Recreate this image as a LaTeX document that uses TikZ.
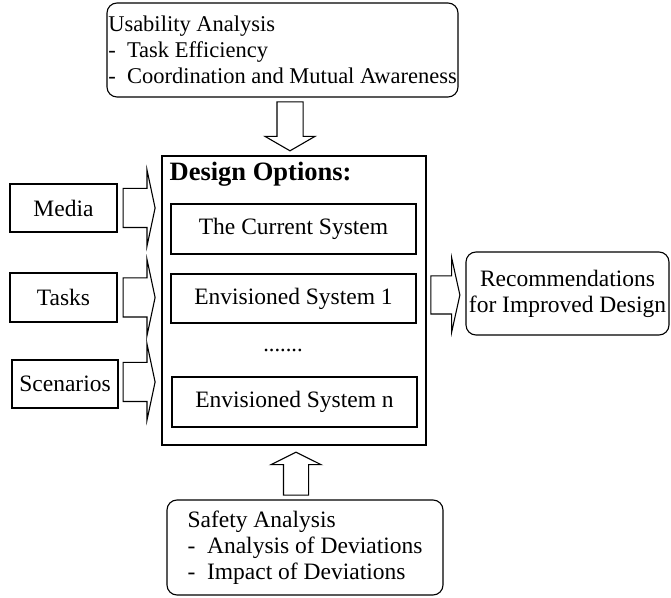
\documentclass[tikz,border=0pt]{standalone}
\usepackage{fontspec}
\setmainfont{Liberation Serif}
\usetikzlibrary{shapes.arrows}

\begin{document}
\begin{tikzpicture}[x=1pt,y=1pt,
  box/.style={draw, line width=1.1pt, inner sep=0pt, font=\fontsize{23.5}{26}\selectfont},
  roundbox/.style={box, rounded corners=10pt, align=left},
  fatarrow/.style={single arrow, draw, line width=1.1pt, inner xsep=0pt, minimum width=0pt}]

 \useasboundingbox (0,0) rectangle (671,597);

 \node[roundbox, minimum width=351, minimum height=94, font=\fontsize{22.5}{26}\selectfont] (usab)
   at (282.5,547) {Usability Analysis\\-~~Task Efficiency\\-~~Coordination and Mutual Awareness};

 \node[box, minimum width=264, minimum height=289] (opts) at (294,296.5) {};
   \node[anchor=west, inner sep=0pt, font=\fontsize{26.5}{30}\selectfont\bfseries] (title)
     at ([xshift=8pt,yshift=-19pt]opts.north west) {Design Options:};
   \node[box, minimum width=245, minimum height=50] (cur) at (293.5,368) {The Current System};
   \node[box, minimum width=245, minimum height=49] (env1) at (293.5,298.5) {Envisioned System 1};
   \node[anchor=base, inner sep=0pt, font=\fontsize{22.5}{26}\selectfont] (dots) at (283,245) {.......};
   \node[box, minimum width=245, minimum height=50] (envn) at (294.5,195) {Envisioned System n};

 \node[box, minimum width=107, minimum height=48] (media) at (63.5,389) {Media};
 \node[box, minimum width=107, minimum height=49] (tasks) at (63.5,299.5) {Tasks};
 \node[box, minimum width=106, minimum height=48] (scen) at (65,213) {Scenarios};

 \node[roundbox, align=center, minimum width=203, minimum height=83] (rec) at (567.5,303.5)
   {Recommendations\\for Improved Design};

 \node[roundbox, minimum width=276, minimum height=95] (safety) at (305,49.5)
   {Safety Analysis\\-~~Analysis of Deviations\\-~~Impact of Deviations};

 % block arrows
 \node[fatarrow, rotate=-90, anchor=tip, minimum height=49, inner ysep=12.5pt,
   single arrow head extend=12pt, single arrow tip angle=120] (uarr)
   at ([xshift=-4pt,yshift=4pt]opts.north) {};
 \node[fatarrow, rotate=90, anchor=tip, minimum height=43, inner ysep=12pt,
   single arrow head extend=12.5pt, single arrow tip angle=127] (sarr)
   at ([xshift=2pt,yshift=-6pt]opts.south) {};

 \node[fatarrow, anchor=tail, minimum height=32, inner ysep=19pt,
   single arrow head extend=18.5pt, single arrow tip angle=156] (marr)
   at ([xshift=5pt]media.east) {};
 \node[fatarrow, anchor=tail, minimum height=32, inner ysep=19pt,
   single arrow head extend=18.5pt, single arrow tip angle=156] (tarr)
   at ([xshift=5pt]tasks.east) {};
 \node[fatarrow, anchor=tail, minimum height=32, inner ysep=19pt,
   single arrow head extend=18.5pt, single arrow tip angle=156] (carr)
   at ([xshift=4pt,yshift=2pt]scen.east) {};

 \node[fatarrow, anchor=tip, minimum height=29, inner ysep=18.5pt,
   single arrow head extend=18pt, single arrow tip angle=155] (rarr)
   at ([xshift=-5pt,yshift=-1.5pt]rec.west) {};

\end{tikzpicture}
\end{document}
